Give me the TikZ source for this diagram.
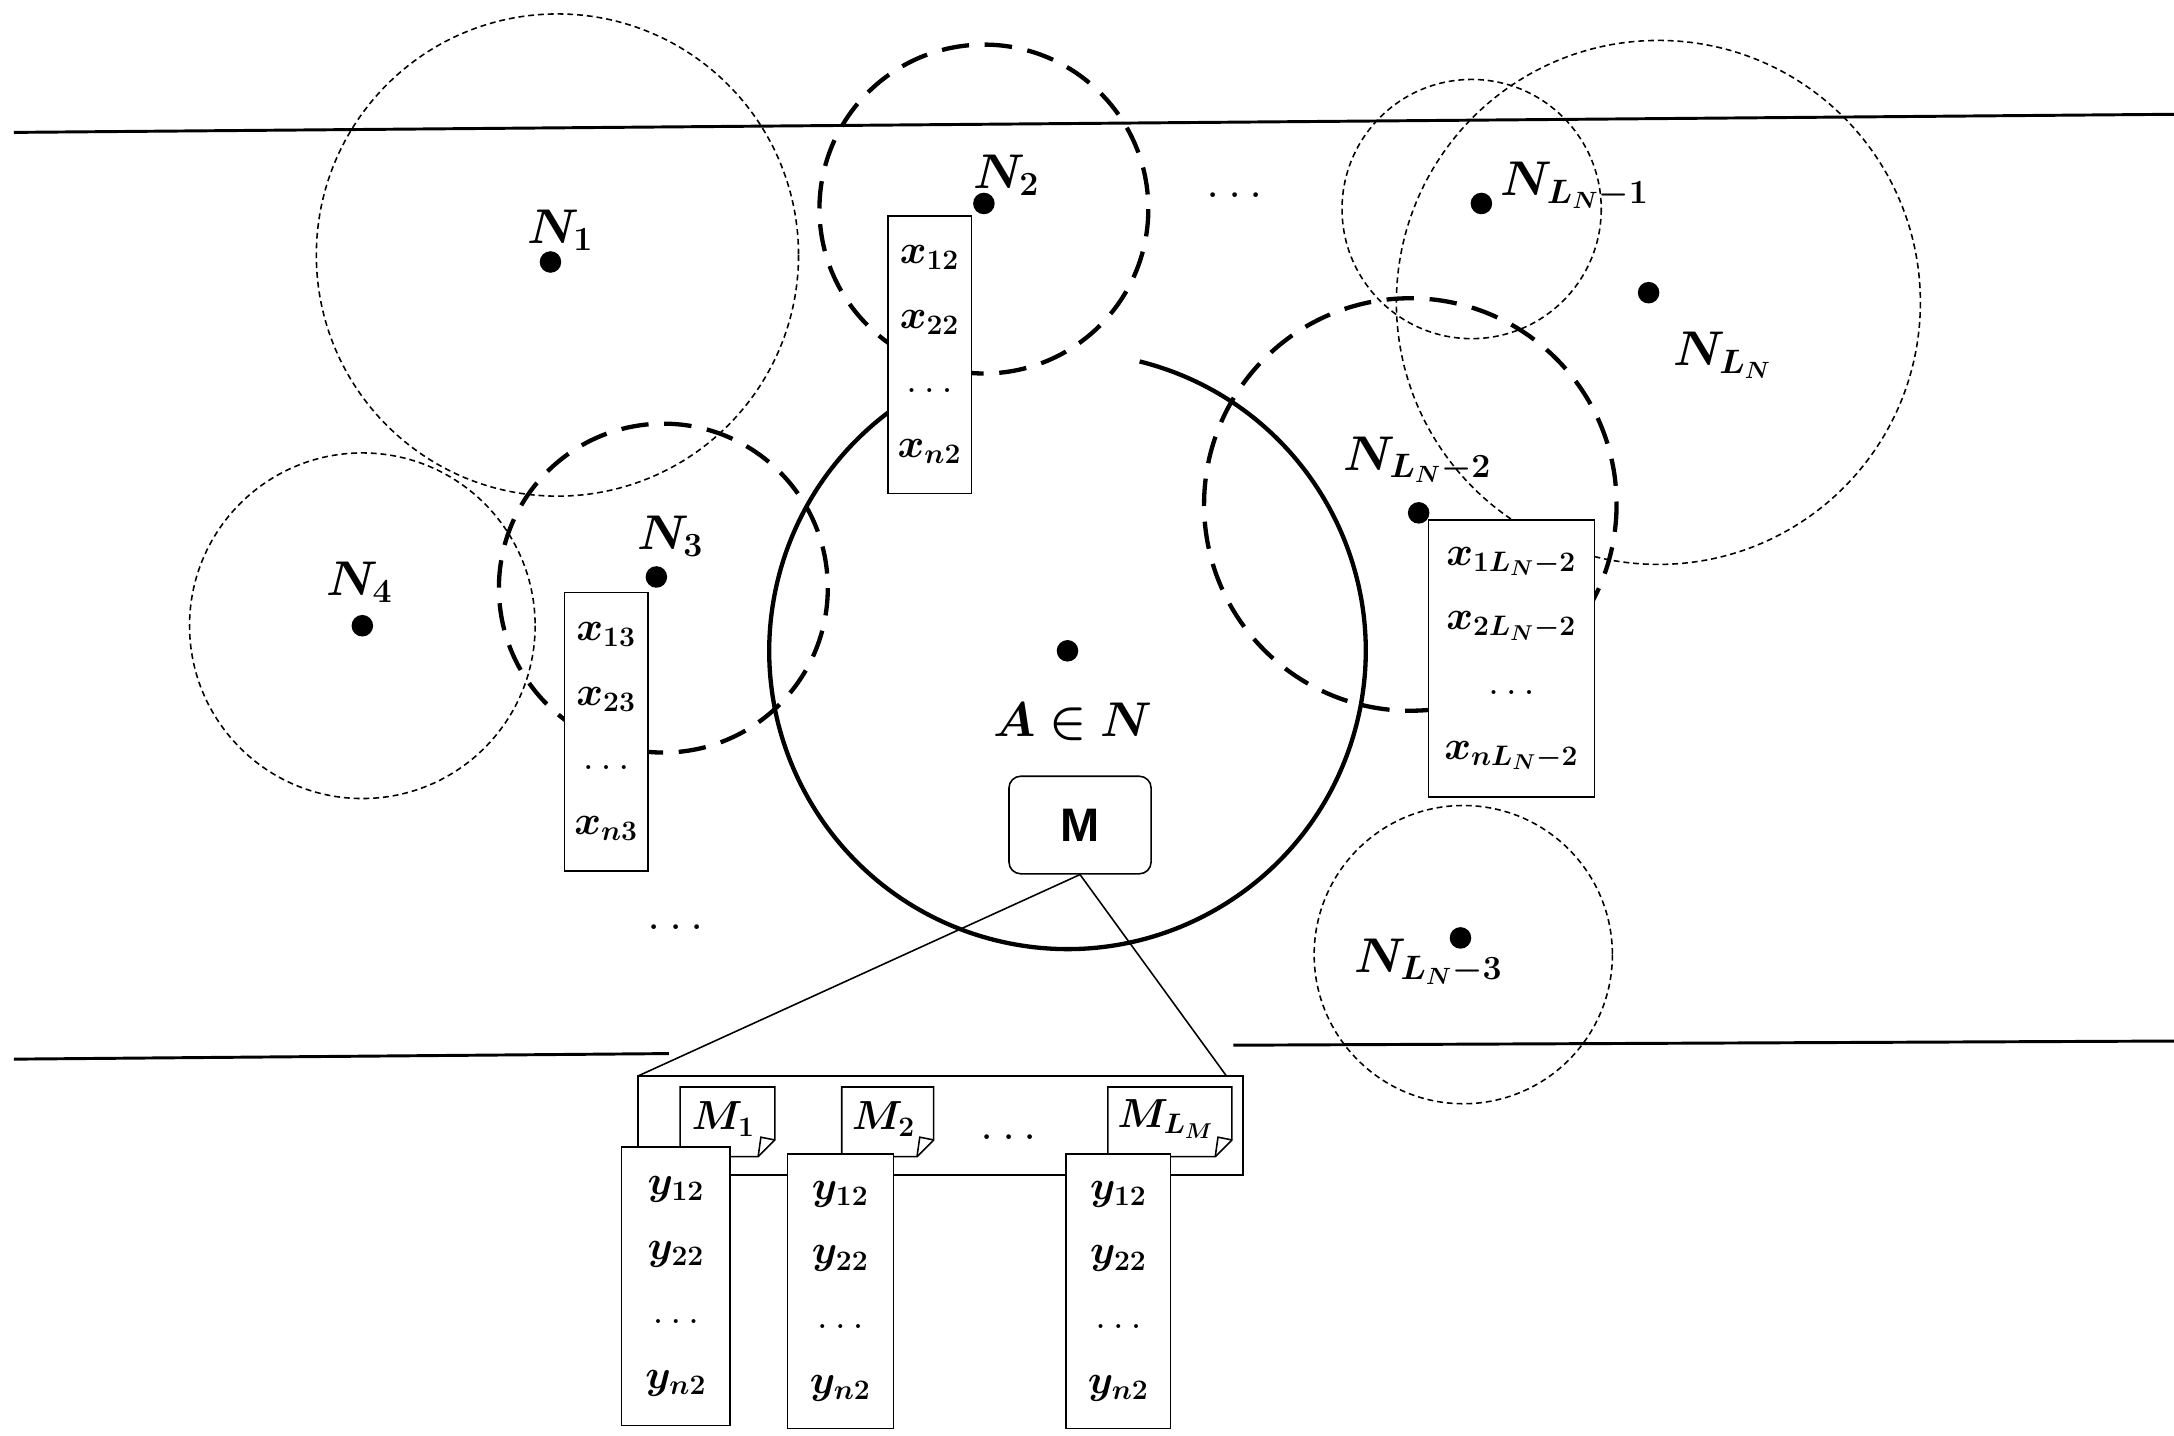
\documentclass[tikz,border=0pt]{standalone}
\usepackage{amsmath,bm}
\usepackage{fontspec}
\newfontfamily\labsans{Liberation Sans}
\tikzset{
 thind/.style={draw,line width=0.8pt,dash pattern=on 3pt off 2pt},
 thickd/.style={draw,line width=2.2pt,dash pattern=on 14pt off 8pt},
 dotn/.style={circle,fill,inner sep=0pt,minimum size=11pt},
 lab/.style={font=\fontsize{26}{30}\selectfont},
 boxt/.style={draw,fill=white,line width=0.8pt,align=center,inner sep=2pt,font=\fontsize{22}{33}\selectfont},
 docf/.style={draw,fill=white,line width=0.8pt}
}
\newcommand{\xcol}[3]{$\bm{#1}$\\$\bm{#2}$\\$\ldots$\\$\bm{#3}$}
\begin{document}
\begin{tikzpicture}[x=0.25mm,y=-0.25mm]
\useasboundingbox (0,0) rectangle (1560,1030);
\fill[white] (0,0) rectangle (1560,1030);
\draw[line width=1.5pt] (10,95) coordinate (t1) -- (1560,82) coordinate (t2);
\draw[line width=1.5pt] (10,760) coordinate (b1) -- (480,756) coordinate (b2);
\draw[line width=1.5pt] (885,750) coordinate (b3) -- (1560,747) coordinate (b4);
\draw[thind] (400,183) circle (173);
\draw[thind] (260,449) circle (124);
\draw[thind] (1056,150) circle (93);
\draw[thind] (1190,217) circle (188);
\draw[thind] (1050,685) circle (107);
\draw[thickd] (706,150) circle (118);
\draw[thickd] (476,422) circle (118);
\draw[thickd] (1012,362) circle (148);
\draw[line width=2.2pt] (766,467) ++(-76:214) arc[start angle=-76,end angle=247,radius=214];
\node[dotn] (A) at (766,467) {};
\node[lab] (Al) at (770,518) {$\bm{A\in N}$};
\node[dotn] (n1) at (395,188) {}; \node[lab] at (402,165) {$\bm{N_1}$};
\node[dotn] (n2) at (706,146) {}; \node[lab] at (722,126) {$\bm{N_2}$};
\node[dotn] (n3) at (471,414) {}; \node[lab] at (481,385) {$\bm{N_3}$};
\node[dotn] (n4) at (260,449) {}; \node[lab] at (258,418) {$\bm{N_4}$};
\node[dotn] (n5) at (1063,146) {}; \node[lab] at (1130,133) {$\bm{N_{L_N-1}}$};
\node[dotn] (n6) at (1183,210) {}; \node[lab] at (1236,255) {$\bm{N_{L_N}}$};
\node[dotn] (n7) at (1018,368) {}; \node[lab] at (1017,330) {$\bm{N_{L_N-2}}$};
\node[dotn] (n8) at (1048,673) {}; \node[lab] at (1025,690) {$\bm{N_{L_N-3}}$};
\node[lab] at (886,140) {$\ldots$};
\node[lab] at (485,665) {$\ldots$};
\node[boxt,minimum width=60*0.25mm,minimum height=199*0.25mm] (x2) at (667,254.5) {\xcol{x_{12}}{x_{22}}{x_{n2}}};
\node[boxt,minimum width=60*0.25mm,minimum height=200*0.25mm] (x3) at (435,525) {\xcol{x_{13}}{x_{23}}{x_{n3}}};
\node[boxt,minimum width=119*0.25mm,minimum height=199*0.25mm] (x7) at (1084.5,472.5) {\xcol{x_{1L_N-2}}{x_{2L_N-2}}{x_{nL_N-2}}};
\node[draw,fill=white,rounded corners=6pt,line width=0.8pt,minimum width=102*0.25mm,minimum height=70*0.25mm,font=\labsans\bfseries\fontsize{24}{28}\selectfont] (M) at (775,592) {M};
\draw[line width=0.8pt] (M.south) -- (458,772);
\draw[line width=0.8pt] (M.south) -- (880,772);
\draw[line width=0.8pt,fill=white] (458,772) rectangle (892,843);
\foreach \a/\b/\t in {488/556/{M_1},604/670/{M_2},795/884/{M_{L_M}}}{
 \draw[docf] (\a,780) -- (\b,780) -- (\b,818) -- (\b-12,830) -- (\a,830) -- cycle;
 \draw[line width=0.8pt] (\b,818) -- (\b-10,816) -- (\b-12,830);
 \node[font=\fontsize{22}{26}\selectfont] at ({(\a+\b)/2-3},803) {$\bm{\t}$};
}
\node[lab] at (724,816) {$\ldots$};
\node[boxt,minimum width=78*0.25mm,minimum height=200*0.25mm] (y1) at (485,923) {\xcol{y_{12}}{y_{22}}{y_{n2}}};
\node[boxt,minimum width=76*0.25mm,minimum height=197*0.25mm] (y2) at (603,926.5) {\xcol{y_{12}}{y_{22}}{y_{n2}}};
\node[boxt,minimum width=75*0.25mm,minimum height=197*0.25mm] (y3) at (802.5,926.5) {\xcol{y_{12}}{y_{22}}{y_{n2}}};
\end{tikzpicture}
\end{document}
